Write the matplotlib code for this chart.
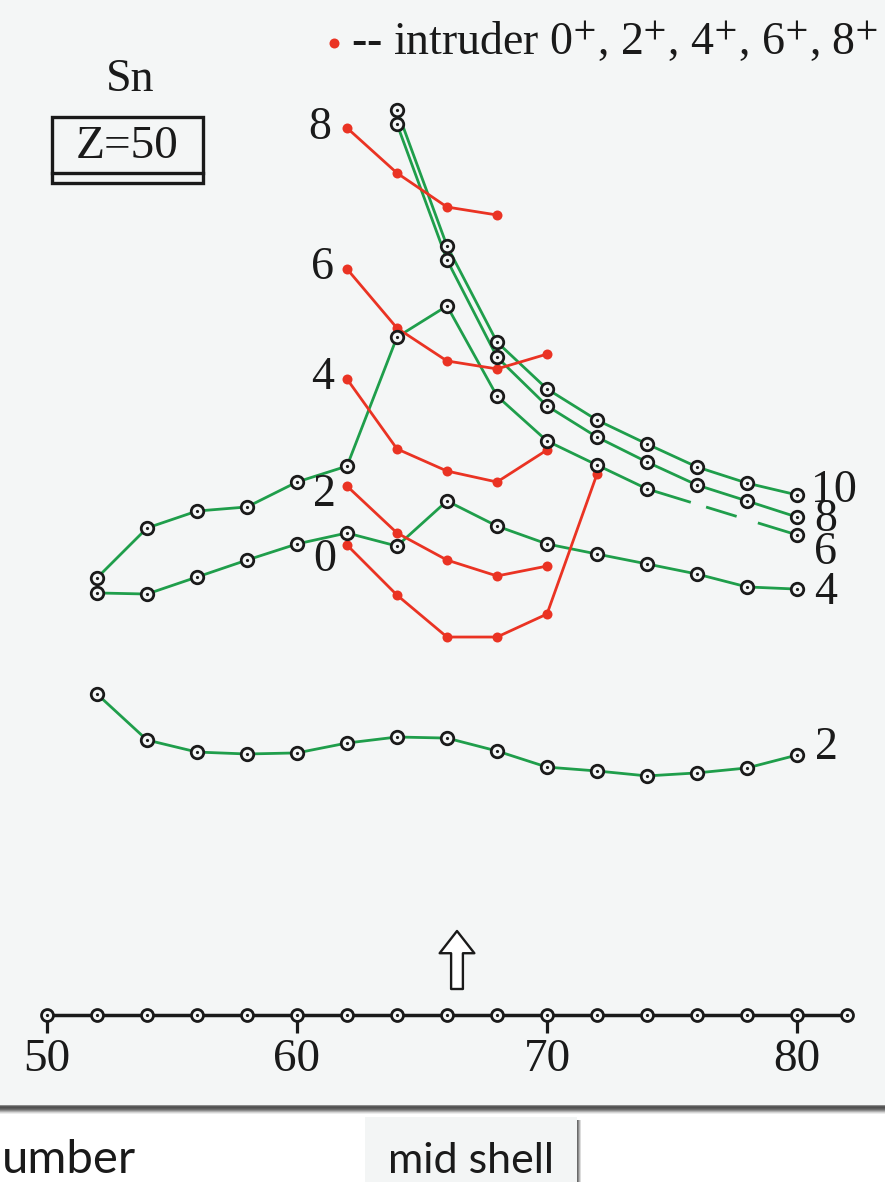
import numpy as np
import matplotlib
matplotlib.use("Agg")
import matplotlib.pyplot as plt
from matplotlib.patches import Rectangle
from matplotlib.lines import Line2D

plt.rcParams["font.family"] = ["Liberation Serif", "DejaVu Serif"]
plt.rcParams["mathtext.fontset"] = "stix"
plt.rcParams["lines.scale_dashes"] = False

# ---------------- data: Sn isotopes, level energies (MeV) vs neutron number ----
n_ground = np.arange(50, 84, 2)                 # ground-state 0+ row
n_full = np.arange(52, 82, 2)                   # N = 52 ... 80

e_2plus = [1.493, 1.279, 1.223, 1.214, 1.219, 1.265, 1.293, 1.288,
           1.228, 1.153, 1.135, 1.112, 1.126, 1.149, 1.209]
e_4plus = [1.963, 1.958, 2.037, 2.116, 2.191, 2.242, 2.181, 2.391,
           2.274, 2.191, 2.144, 2.098, 2.051, 1.991, 1.981]

n_6plus = [52, 54, 56, 58, 60, 62, 64, 66, 68, 70, 72, 74, 80]
e_6plus = [2.033, 2.265, 2.344, 2.363, 2.479, 2.553, 3.153, 3.298,
           2.879, 2.670, 2.558, 2.447, 2.233]

n_high = np.arange(64, 82, 2)
e_8plus = [4.144, 3.512, 3.060, 2.833, 2.688, 2.572, 2.465, 2.391, 2.316]
e_10plus = [4.209, 3.577, 3.130, 2.912, 2.767, 2.656, 2.549, 2.474, 2.419]

# intruder band
n_intr0 = [62, 64, 66, 68, 70, 72]
e_intr0 = [2.186, 1.953, 1.758, 1.758, 1.865, 2.516]
n_intr = [62, 64, 66, 68, 70]
e_intr2 = [2.460, 2.242, 2.116, 2.042, 2.088]
e_intr4 = [2.958, 2.633, 2.530, 2.479, 2.628]
e_intr6 = [3.470, 3.195, 3.042, 3.005, 3.074]
n_intr8 = [62, 64, 66, 68]
e_intr8 = [4.126, 3.916, 3.758, 3.721]

tick_values = [50, 60, 70, 80]
mid_shell = 66.4

# ---------------- styling ----------------
W, H = 885, 1182
PANEL = "#f4f6f6"
GREEN = "#1f9e4b"
RED = "#ea3323"
INK = "#1a1a1a"


def fx(x):
    return x / W


def fy(y):
    return 1 - y / H


fig = plt.figure(figsize=(W / 100, H / 100), dpi=100)
fig.patch.set_facecolor("white")

panel_bottom = 1105
ax = fig.add_axes([0, fy(panel_bottom), 1, panel_bottom / H])
ax.set_facecolor(PANEL)
for s in ax.spines.values():
    s.set_visible(False)
ax.set_xticks([])
ax.set_yticks([])
px_per_n = 25.0
px_per_mev = 215.0
ax.set_xlim(50 - 47 / px_per_n, 50 + (W - 47) / px_per_n)
ax.set_ylim((1015 - panel_bottom) / px_per_mev, 1015 / px_per_mev)


def ringed(x, y, ms=9.0, z=4):
    ax.plot(x, y, ls="none", marker="o", ms=ms, mfc=PANEL, mec=INK,
            mew=2.0, zorder=z)
    ax.plot(x, y, ls="none", marker="o", ms=2.3, mfc=INK, mec="none",
            zorder=z + 0.5)


LW = 2.0

# ground-state row acting as the N axis
zeros = np.zeros(len(n_ground))
ax.plot(n_ground, zeros, color=INK, lw=2.5, zorder=3)
ringed(n_ground, zeros, ms=8.6)
ax.vlines(tick_values, -18 / px_per_mev, 0, color=INK, lw=2.3, zorder=2)
for t in tick_values:
    ax.text(t, -45 / px_per_mev, str(t), ha="center", va="center",
            fontsize=34, color=INK)

# yrast-like levels (green)
ax.plot(n_full, e_2plus, color=GREEN, lw=LW, zorder=2)
ringed(n_full, e_2plus)
ax.plot(n_full, e_4plus, color=GREEN, lw=LW, zorder=2)
ringed(n_full, e_4plus)
ax.plot(n_6plus[:-1], e_6plus[:-1], color=GREEN, lw=LW, zorder=2)
ax.plot(n_6plus[-2:], e_6plus[-2:], color=GREEN, lw=LW, zorder=2,
        linestyle=(0, (33, 11.5, 23, 16, 40)))
ringed(n_6plus, e_6plus)
ax.plot(n_high, e_8plus, color=GREEN, lw=LW, zorder=2)
ringed(n_high, e_8plus)
ax.plot(n_high, e_10plus, color=GREEN, lw=LW, zorder=2)
ringed(n_high, e_10plus)

# intruder levels (red)
for nn, ee in [(n_intr0, e_intr0), (n_intr, e_intr2), (n_intr, e_intr4),
               (n_intr, e_intr6), (n_intr8, e_intr8)]:
    ax.plot(nn, ee, color=RED, lw=LW, marker="o", ms=7.2, mec="none",
            zorder=3)

# spin labels of the intruder band (left side)
for lab, nn, ee, dx, dy in [("8", n_intr8, e_intr8, -27, 0),
                            ("6", n_intr, e_intr6, -24, 1),
                            ("4", n_intr, e_intr4, -24, 1),
                            ("2", n_intr, e_intr2, -23, -9),
                            ("0", n_intr0, e_intr0, -22, -15)]:
    ax.annotate(lab, (nn[0], ee[0]), xytext=(dx, dy),
                textcoords="offset pixels", ha="center", va="center",
                fontsize=33, color=INK)

# spin labels of the green levels (right side)
for lab, nn, ee, dx, dy in [("10", n_high, e_10plus, 14, 4),
                            ("8", n_high, e_8plus, 17, -3),
                            ("6", n_6plus, e_6plus, 17, -18),
                            ("4", n_full, e_4plus, 17, -4),
                            ("2", n_full, e_2plus, 18, 7)]:
    ax.annotate(lab, (nn[-1], ee[-1]), xytext=(dx, dy),
                textcoords="offset pixels", ha="left", va="center",
                fontsize=33, color=INK)

# hollow arrow marking mid shell
ax.annotate("", xy=(mid_shell, 84 / px_per_mev),
            xytext=(mid_shell, 26 / px_per_mev),
            arrowprops=dict(arrowstyle="simple,head_length=16,head_width=25,tail_width=8.5",
                            mutation_scale=1, shrinkA=0, shrinkB=0,
                            fc="white", ec=INK, lw=1.7))

# element label and boxed Z
fig.text(fx(130), fy(80), "Sn", ha="center", va="center", fontsize=33,
         color=INK)
fig.add_artist(Rectangle((fx(52), fy(183)), fx(151), 66 / H,
                         transform=fig.transFigure, fill=False,
                         ec=INK, lw=2.4))
fig.add_artist(Line2D([fx(52), fx(203)], [fy(173), fy(173)],
                      transform=fig.transFigure, color=INK, lw=2.4))
fig.text(fx(127), fy(147), "Z=50", ha="center", va="center", fontsize=34,
         color=INK)

# legend line
fig.add_artist(Line2D([fx(334)], [fy(43)], transform=fig.transFigure,
                      marker="o", ms=7.2, color=RED, mec="none"))
fig.text(fx(351), fy(43),
         r"-- intruder 0$^{+}$, 2$^{+}$, 4$^{+}$, 6$^{+}$, 8$^{+}$",
         ha="left", va="center", fontsize=33, color=INK)

# shadow under the panel
shade = ["#8a8a8a", "#5a5a5a", "#505050", "#5c5c5c", "#6e6e6e",
         "#8c8c8c", "#b0b0b0", "#d4d4d4", "#ececec"]
for i, c in enumerate(shade):
    y = panel_bottom + i
    fig.add_artist(Rectangle((0, fy(y + 1)), 1, 1 / H,
                             transform=fig.transFigure, fc=c, ec="none"))

# slide fragments below the panel
fig.text(fx(2), fy(1181), "umber", ha="left", va="bottom",
         fontsize=34, family="Lato", color=INK)
fig.add_artist(Rectangle((fx(365), 0), fx(212), fy(1117),
                         transform=fig.transFigure, fc="#f3f5f5", ec="none"))
for i, c in enumerate(["#6a6a6a", "#8a8a8a", "#b4b4b4", "#dcdcdc"]):
    fig.add_artist(Rectangle((fx(577 + i), 0), 1.2 / W, fy(1120),
                             transform=fig.transFigure, fc=c, ec="none"))
fig.text(fx(471), fy(1173), "mid shell", ha="center", va="baseline",
         fontsize=31, family="Lato", color=INK)

fig.savefig("out.png", dpi=100, facecolor=fig.get_facecolor())
